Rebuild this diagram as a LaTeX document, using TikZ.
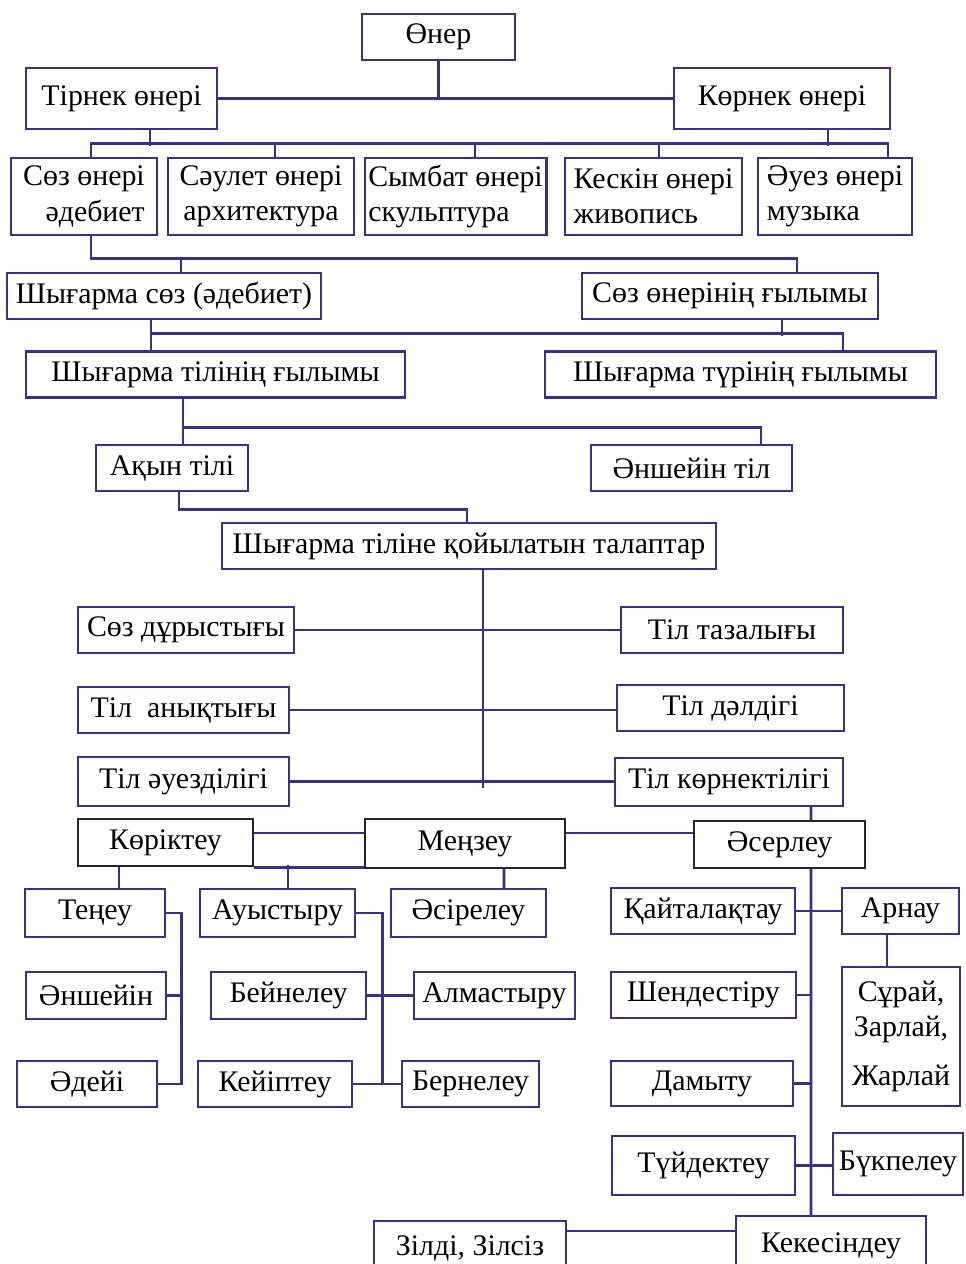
\documentclass[tikz,border=0pt]{standalone}
\usepackage{fontspec}
\setmainfont{Liberation Serif}
\usetikzlibrary{calc,positioning}
\definecolor{linecol}{RGB}{58,48,140}
\begin{document}
\begin{tikzpicture}[x=0.02cm, y=-0.02cm,
    box/.style={draw=linecol, line width=1.4pt, fill=white, inner sep=2pt, minimum height=0.92cm, align=center, font=\fontsize{17}{20}\selectfont},
    blackbox/.style={box, draw=black!85},
    link/.style={draw=linecol, line width=1.6pt}
  ]
  \useasboundingbox (0,0) rectangle (965,1264);

  \node[box, minimum width=3.06cm] (oner) at (438.5,37) {Өнер};
  \node[box, minimum width=3.82cm, minimum height=1.22cm] (tirnek) at (121.5,98.5) {Тірнек өнері};
  \node[box, minimum width=4.32cm, minimum height=1.22cm] (kornek) at (782,98.5) {Көрнек өнері};

  \node[box, minimum width=2.92cm, minimum height=1.54cm, align=right] (sozoneri) at (84,196.5) {Сөз өнері\\әдебиет};
  \node[box, minimum width=3.72cm, minimum height=1.54cm] (saulet) at (261,196.5) {Сәулет өнері\\архитектура};
  \node[box, minimum width=3.62cm, minimum height=1.54cm, align=left] (symbat) at (455.5,196.5) {Сымбат өнері\\скульптура};
  \node[box, minimum width=3.54cm, minimum height=1.54cm, align=left] (keskin) at (653.5,196.5) {Кескін өнері\\живопись};
  \node[box, minimum width=3.08cm, minimum height=1.54cm, align=left] (auez) at (835,196.5) {Әуез өнері\\музыка};

  \node[box, minimum width=6.28cm] (shygsoz) at (164,296) {Шығарма сөз (әдебиет)};
  \node[box, minimum width=5.92cm] (sozgylym) at (730,296) {Сөз өнерінің ғылымы};
  \node[box, minimum width=7.58cm] (tilgylym) at (215.5,374.5) {Шығарма тілінің ғылымы};
  \node[box, minimum width=7.82cm] (turgylym) at (740.5,374.5) {Шығарма түрінің ғылымы};
  \node[box, minimum width=3.04cm] (akyn) at (172,468) {Ақын тілі};
  \node[box, minimum width=4.02cm] (ansheiin) at (691.5,468) {Әншейін тіл};
  \node[box, minimum width=9.88cm] (talap) at (469,546) {Шығарма тіліне қойылатын талаптар};

  \node[box, minimum width=4.32cm] (durys) at (186,630) {Сөз дұрыстығы};
  \node[box, minimum width=4.44cm] (taza) at (732,630) {Тіл тазалығы};
  \node[box, minimum width=4.22cm] (anyk) at (183.5,710) {Тіл~ анықтығы};
  \node[box, minimum width=4.54cm] (dal) at (730.5,708) {Тіл дәлдігі};
  \node[box, minimum width=4.22cm, minimum height=0.98cm] (auezdi) at (183.5,781.5) {Тіл әуезділігі};
  \node[box, minimum width=4.56cm, minimum height=0.96cm] (kornekti) at (729,782) {Тіл көрнектілігі};

  \node[blackbox, minimum width=3.5cm, minimum height=0.94cm] (korik) at (165.5,842.5) {Көріктеу};
  \node[blackbox, minimum width=4cm, minimum height=0.98cm] (menzeu) at (465,843.5) {Меңзеу};
  \node[blackbox, minimum width=3.42cm, minimum height=0.94cm] (aser) at (779.5,844.5) {Әсерлеу};

  \node[box, minimum width=2.8cm, minimum height=0.96cm] (teneu) at (95,913) {Теңеу};
  \node[box, minimum width=3.1cm, minimum height=0.96cm] (auys) at (277.5,913) {Ауыстыру};
  \node[box, minimum width=3.1cm, minimum height=0.96cm] (asire) at (468.5,913) {Әсірелеу};
  \node[box, minimum width=2.8cm, minimum height=0.94cm] (ansh) at (96,995.5) {Әншейін};
  \node[box, minimum width=3.1cm, minimum height=0.94cm] (beine) at (288.5,995.5) {Бейнелеу};
  \node[box, minimum width=3.22cm, minimum height=0.94cm] (almas) at (494.5,995.5) {Алмастыру};
  \node[box, minimum width=2.8cm] (adei) at (87,1084) {Әдейі};
  \node[box, minimum width=3.08cm] (keip) at (275,1084) {Кейіптеу};
  \node[box, minimum width=2.74cm] (berne) at (470.5,1084) {Бернелеу};

  \node[box, minimum width=3.68cm] (kaital) at (703,911) {Қайталақтау};
  \node[box, minimum width=2.34cm] (arnau) at (900.5,911) {Арнау};
  \node[box, minimum width=2.36cm, minimum height=2.78cm] (suray) at (901,1036.5) {Сұрай,\\Зарлай,\\[8pt]Жарлай};
  \node[box, minimum width=3.7cm] (shende) at (703.5,995) {Шендестіру};
  \node[box, minimum width=3.64cm, minimum height=0.9cm] (damytu) at (702,1083.5) {Дамыту};
  \node[box, minimum width=3.66cm, minimum height=1.18cm] (tuide) at (703.5,1165.5) {Түйдектеу};
  \node[box, minimum width=2.6cm, minimum height=1.24cm] (bukpe) at (898,1164) {Бүкпелеу};
  \node[box, minimum width=3.8cm, minimum height=1.18cm] (kekes) at (831,1245.5) {Кекесіндеу};
  \node[box, minimum width=3.84cm, minimum height=1.08cm] (zildi) at (470,1248) {Зілді, Зілсіз};

  \draw[link] (oner.south) -- (oner.south |- tirnek.east);
  \draw[link] (tirnek.east) -- (kornek.west);
  \draw[link] ($(sozoneri.north)+(7,0)$) -- ++(0,-13) -| ($(auez.north)+(53,0)$);
  \foreach \n/\dx in {saulet/14, symbat/19.5, keskin/5.5}
    \draw[link] ($(\n.north)+(\dx,0)$) -- ++(0,-13);
  \draw[link] ($(tirnek.south)+(28.5,0)$) -- ++(0,16);
  \draw[link] ($(kornek.south)+(46,0)$) -- ++(0,16);

  \draw[link] ($(sozoneri.south)+(7,0)$) |- ($(sozgylym.north)+(67,-13)$) -- ($(sozgylym.north)+(67,0)$);
  \draw[link] ($(shygsoz.north)+(17,0)$) -- ++(0,-13);
  \draw[link] ($(shygsoz.south)+(-13,0)$) -- ($(tilgylym.north)+(-64.5,0)$);
  \draw[link] ($(tilgylym.north)+(-64.5,-17)$) -| ($(turgylym.north)+(102.5,0)$);
  \draw[link] ($(sozgylym.south)+(52,0)$) -- ++(0,16);
  \draw[link] ($(tilgylym.south)+(-32.5,0)$) -- ($(akyn.north)+(11,0)$);
  \draw[link] ($(akyn.north)+(11,-16)$) -| ($(ansheiin.north)+(69.5,0)$);
  \draw[link] ($(akyn.south)+(7,0)$) |- ($(talap.north)+(-2,-12)$) -- ($(talap.north)+(-2,0)$);

  \draw[link] ($(talap.south)+(14,0)$) -- ++(0,218);
  \draw[link] (durys.east) -- (taza.west);
  \draw[link] (anyk.east) -- (anyk.east -| dal.west);
  \draw[link] (auezdi.east) -- (auezdi.east -| kornekti.west);
  \draw[link] ($(kornekti.south)+(82,0)$) -- ($(aser.north)+(31.5,0)$);

  \draw[link] ($(korik.east)+(0,-9.5)$) -- ($(menzeu.west)+(0,-10.5)$);
  \draw[link] ($(menzeu.east)+(0,-10.5)$) -- ($(aser.west)+(0,-11.5)$);
  \draw[link] (korik.south east) -- (korik.south east -| menzeu.west);
  \draw[link] ($(korik.south)+(-46.5,0)$) -- ($(teneu.north)+(24,0)$);
  \draw[link] ($(auys.north)+(10.5,0)$) -- ++(0,-23);
  \draw[link] ($(menzeu.south)+(39,0)$) -- ($(asire.north)+(35.5,0)$);

  \draw[link] (teneu.east) -- ++(15,0) coordinate (lb) |- (adei.east);
  \draw[link] (ansh.east) -- (ansh.east -| lb);
  \draw[link] (auys.east) -- ++(26,0) coordinate (mb) |- (keip.east);
  \draw[link] (keip.east) -- (berne.west);
  \draw[link] (beine.east) -- (almas.west);

  \draw[link] ($(aser.south)+(31.5,0)$) coordinate (sp) -- ($(kekes.north)+(-20,0)$);
  \draw[link] (kaital.east) -- (arnau.west);
  \draw[link] ($(arnau.south)+(-13.5,0)$) -- ($(suray.north)+(-14,0)$);
  \draw[link] (shende.east) -- (shende.east -| sp);
  \draw[link] (damytu.east) -- (damytu.east -| sp);
  \draw[link] (tuide.east) -- (tuide.east -| bukpe.west);
  \draw[link] ($(zildi.east)+(0,-17)$) coordinate (zz) -- (zz -| kekes.west);
\end{tikzpicture}
\end{document}
